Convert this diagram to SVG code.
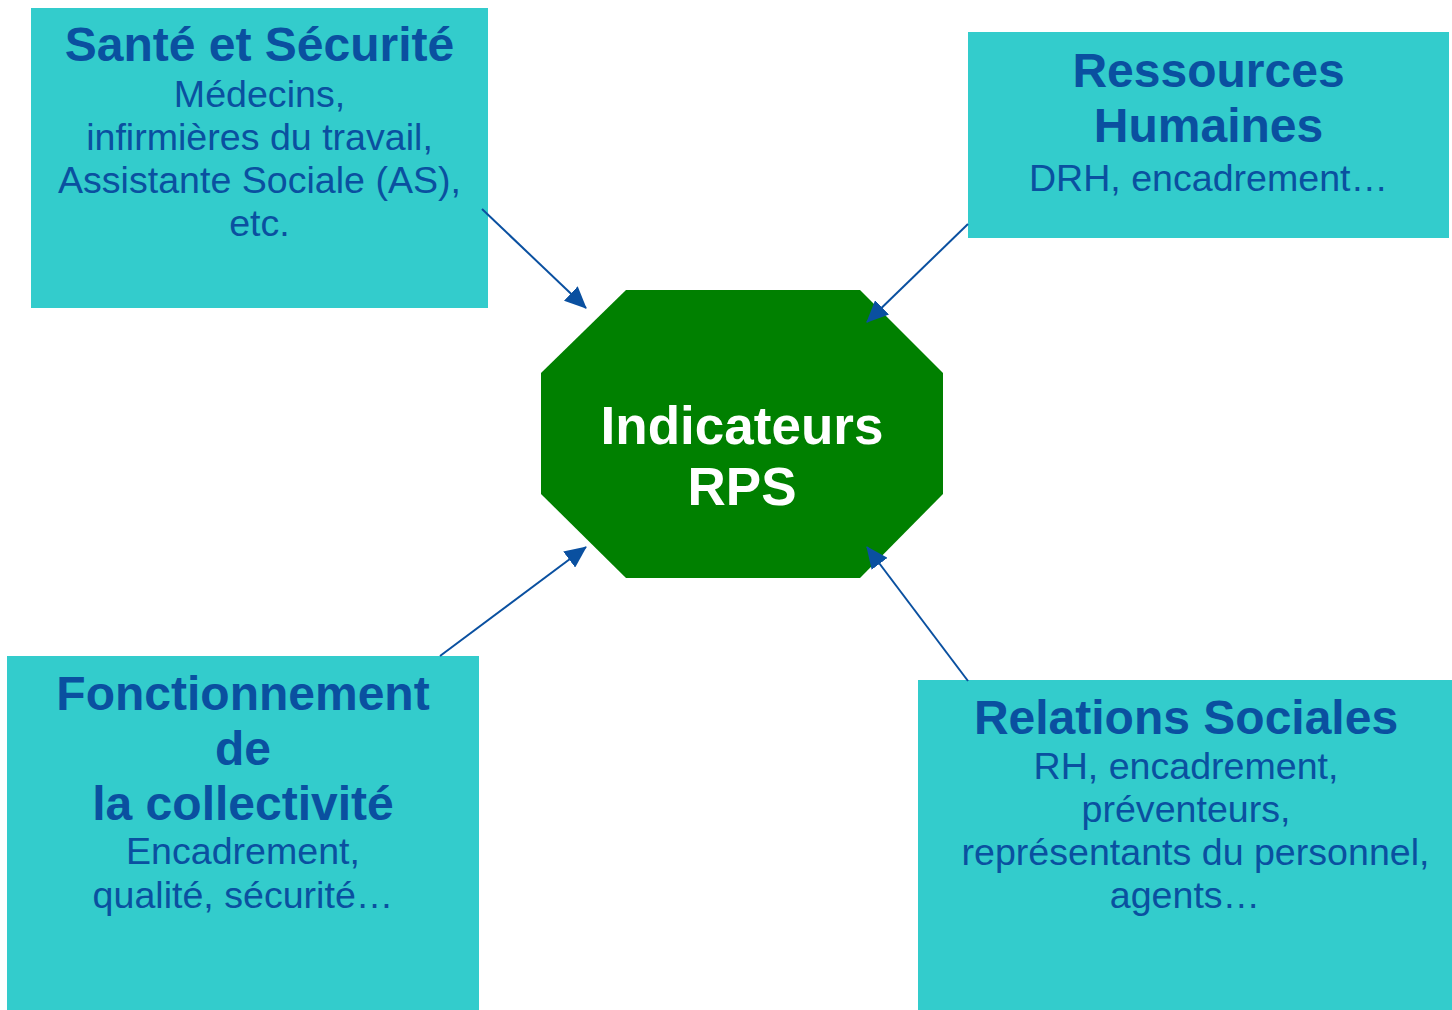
<svg xmlns="http://www.w3.org/2000/svg" width="1452" height="1010" viewBox="0 0 1452 1010">
<defs>
<marker id="ah" markerUnits="userSpaceOnUse" markerWidth="22" markerHeight="20" refX="21" refY="10" orient="auto">
<path d="M0,0 L22,10 L0,20 z" fill="#0A50A0"/>
</marker>
<style>
.box{fill:#33CCCC;}
.t{font-family:"Liberation Sans",Arial,sans-serif;font-weight:bold;font-size:48px;fill:#0A50A0;text-anchor:middle;}
.s{font-family:"Liberation Sans",Arial,sans-serif;font-size:37.6px;fill:#0A50A0;text-anchor:middle;}
.c{font-family:"Liberation Sans",Arial,sans-serif;font-weight:bold;font-size:53px;fill:#FFFFFF;text-anchor:middle;}
.con{stroke:#0A50A0;stroke-width:2;fill:none;marker-end:url(#ah);}
</style>
</defs>
<rect width="1452" height="1010" fill="#FFFFFF"/>
<g id="sante">
<rect class="box" x="31" y="8" width="457" height="300"/>
<text class="t" x="259.5" y="61">Santé et Sécurité</text>
<text class="s" x="259.5" y="107">Médecins,</text>
<text class="s" x="259.5" y="150">infirmières du travail,</text>
<text class="s" x="259.5" y="193">Assistante Sociale (AS),</text>
<text class="s" x="259.5" y="236">etc.</text>
</g>
<g id="rh">
<rect class="box" x="968" y="32" width="481" height="206"/>
<text class="t" x="1208.5" y="87">Ressources</text>
<text class="t" x="1208.5" y="142">Humaines</text>
<text class="s" x="1208.5" y="191">DRH, encadrement…</text>
</g>
<g id="fonctionnement">
<rect class="box" x="7" y="656" width="472" height="354"/>
<text class="t" x="243" y="710">Fonctionnement</text>
<text class="t" x="243" y="765">de</text>
<text class="t" x="243" y="820">la collectivité</text>
<text class="s" x="243" y="864">Encadrement,</text>
<text class="s" x="243" y="908">qualité, sécurité…</text>
</g>
<g id="relations">
<rect class="box" x="918" y="680" width="534" height="330"/>
<text class="t" x="1186" y="734">Relations Sociales</text>
<text class="s" x="1186" y="779">RH, encadrement,</text>
<text class="s" x="1186" y="822">préventeurs,</text>
<text class="s" x="1195.5" y="865">représentants du personnel,</text>
<text class="s" x="1185" y="908">agents…</text>
</g>
<g id="indicateurs">
<polygon points="626,290 860,290 943,373 943,494 860,578 626,578 541,494 541,373" fill="#008000"/>
<text class="c" x="742" y="444">Indicateurs</text>
<text class="c" x="742" y="505">RPS</text>
</g>
<g id="connectors">
<line class="con" x1="482" y1="209" x2="586" y2="308"/>
<line class="con" x1="968" y1="224" x2="867" y2="322"/>
<line class="con" x1="440" y1="656" x2="586" y2="547"/>
<line class="con" x1="968" y1="681" x2="867" y2="547"/>
</g>
</svg>
